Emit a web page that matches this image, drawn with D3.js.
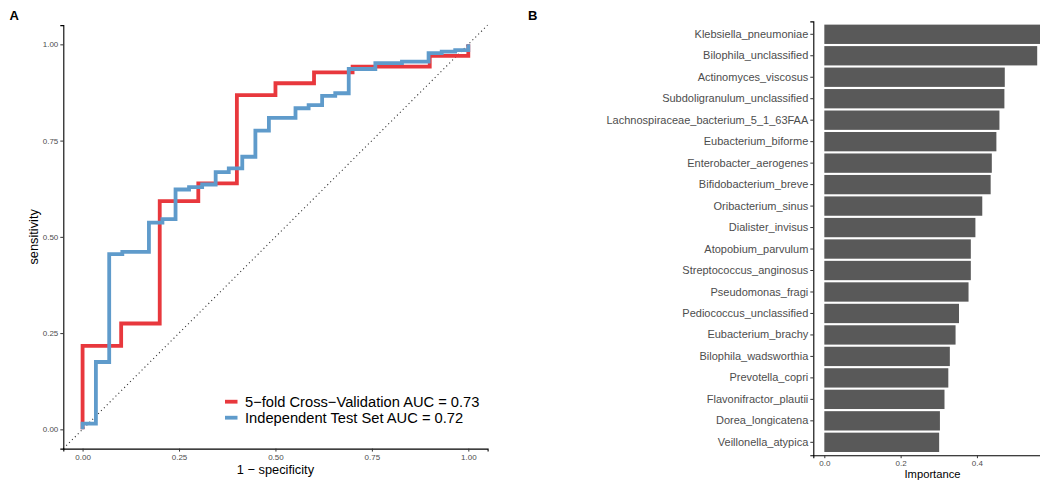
<!DOCTYPE html>
<html>
<head>
<meta charset="utf-8">
<script src="https://cdn.jsdelivr.net/npm/d3@7"></script>
<style>
  html, body { margin: 0; padding: 0; background: #fff; }
  svg { display: block; font-family: "Liberation Sans", Arial, Helvetica, sans-serif; }
</style>
</head>
<body>
<svg id="chart" width="1040" height="481"></svg>
<script>
// ---------------- Data ----------------
// Panel A: ROC curves (x = 1 - specificity, y = sensitivity), step vertices
const cvFpr  = [0, 0, 0.1, 0.1, 0.2, 0.2, 0.3, 0.3, 0.4, 0.4, 0.5, 0.5, 0.6, 0.6, 0.7, 0.7, 0.9, 0.9, 1.0, 1.0];
const cvTpr  = [0, 0.217, 0.217, 0.275, 0.275, 0.593, 0.593, 0.639, 0.639, 0.868, 0.868, 0.899, 0.899, 0.927, 0.927, 0.942, 0.942, 0.970, 0.970, 1.0];

const testFpr = [0, 0, 0.0345, 0.0345, 0.069, 0.069, 0.103, 0.103, 0.172, 0.172, 0.207, 0.207, 0.241, 0.241,
                 0.276, 0.276, 0.310, 0.310, 0.345, 0.345, 0.379, 0.379, 0.414, 0.414, 0.448, 0.448, 0.483, 0.483,
                 0.552, 0.552, 0.586, 0.586, 0.621, 0.621, 0.655, 0.655, 0.690, 0.690, 0.759, 0.759, 0.828, 0.828,
                 0.897, 0.897, 0.931, 0.931, 0.966, 0.966, 1.0, 1.0];
const testTpr = [0, 0.015, 0.015, 0.175, 0.175, 0.455, 0.455, 0.461, 0.461, 0.537, 0.537, 0.546, 0.546, 0.623,
                 0.623, 0.629, 0.629, 0.636, 0.636, 0.668, 0.668, 0.678, 0.678, 0.708, 0.708, 0.776, 0.776, 0.809,
                 0.809, 0.834, 0.834, 0.842, 0.842, 0.866, 0.866, 0.873, 0.873, 0.936, 0.936, 0.951, 0.951, 0.955,
                 0.955, 0.977, 0.977, 0.981, 0.981, 0.985, 0.985, 1.0];

const legendLabels = ["5\u2212fold Cross\u2212Validation AUC = 0.73", "Independent Test Set AUC = 0.72"];
const rocTicks = [0, 0.25, 0.5, 0.75, 1.0];

// Panel B: feature importance
const features = ["Klebsiella_pneumoniae", "Bilophila_unclassified", "Actinomyces_viscosus",
  "Subdoligranulum_unclassified", "Lachnospiraceae_bacterium_5_1_63FAA", "Eubacterium_biforme",
  "Enterobacter_aerogenes", "Bifidobacterium_breve", "Oribacterium_sinus", "Dialister_invisus",
  "Atopobium_parvulum", "Streptococcus_anginosus", "Pseudomonas_fragi", "Pediococcus_unclassified",
  "Eubacterium_brachy", "Bilophila_wadsworthia", "Prevotella_copri", "Flavonifractor_plautii",
  "Dorea_longicatena", "Veillonella_atypica"];
const importance = [0.578, 0.558, 0.473, 0.472, 0.459, 0.451, 0.439, 0.436, 0.414, 0.396,
  0.384, 0.384, 0.378, 0.353, 0.344, 0.329, 0.325, 0.315, 0.303, 0.301];
const impTicks = [0.0, 0.2, 0.4];

// ---------------- Drawing ----------------
const svg = d3.select("#chart");
const tickColor = "#333333";
const tickLabelColor = "#4D4D4D";

// ---------- Panel A ----------
const ax = d3.scaleLinear().domain([-0.05, 1.05]).range([63.3, 487.6]);
const ay = d3.scaleLinear().domain([-0.05, 1.05]).range([448.6, 25.1]);
const gA = svg.append("g");

// diagonal reference line
gA.append("line")
  .attr("x1", ax(-0.05)).attr("y1", ay(-0.05))
  .attr("x2", ax(1.05)).attr("y2", ay(1.05))
  .attr("stroke", "#333").attr("stroke-width", 1.1)
  .attr("stroke-dasharray", "1.1,3");

const lineGen = d3.line().x(d => ax(d[0])).y(d => ay(d[1]));
const cvPts = cvFpr.map((f, i) => [f, cvTpr[i]]);
const testPts = testFpr.map((f, i) => [f, testTpr[i]]);
const colors = ["#E8383D", "#5F9BCB"];

gA.append("path").datum(cvPts).attr("d", lineGen)
  .attr("fill", "none").attr("stroke", colors[0]).attr("stroke-width", 3.8)
  .attr("stroke-linejoin", "miter");
gA.append("path").datum(testPts).attr("d", lineGen)
  .attr("fill", "none").attr("stroke", colors[1]).attr("stroke-width", 3.8)
  .attr("stroke-linejoin", "miter");

// axes
const axA = gA.append("g").attr("transform", `translate(0,${ay(-0.05)})`)
  .call(d3.axisBottom(ax).tickValues(rocTicks).tickFormat(d3.format(".2f")).tickSize(3).tickPadding(3));
const ayA = gA.append("g").attr("transform", `translate(${ax(-0.05)},0)`)
  .call(d3.axisLeft(ay).tickValues(rocTicks).tickFormat(d3.format(".2f")).tickSize(3).tickPadding(2));
[axA, ayA].forEach(g => {
  g.select(".domain").attr("stroke", "#000").attr("stroke-width", 1.1);
  g.selectAll(".tick line").attr("stroke", tickColor);
  g.selectAll(".tick text").attr("fill", tickLabelColor).style("font-size", "8px")
    .style("font-family", "'Liberation Sans', Arial, sans-serif");
});

gA.append("text").attr("x", ax(0.5)).attr("y", 473.5).attr("text-anchor", "middle")
  .style("font-size", "12.8px").attr("fill", "#000").text("1 \u2212 specificity");
gA.append("text").attr("transform", `translate(37.5,${ay(0.5)}) rotate(-90)`)
  .attr("text-anchor", "middle").style("font-size", "12.8px").attr("fill", "#000").text("sensitivity");

// legend
const leg = gA.append("g");
legendLabels.forEach((lab, i) => {
  const y = 401.7 + i * 16;
  leg.append("line").attr("x1", 225).attr("x2", 237.5).attr("y1", y).attr("y2", y)
    .attr("stroke", colors[i]).attr("stroke-width", 3.8);
  leg.append("text").attr("x", 245).attr("y", y).attr("dy", "0.36em")
    .style("font-size", "14.7px").attr("fill", "#000").text(lab);
});

svg.append("text").attr("x", 9.5).attr("y", 19.5).style("font-size", "13px")
  .style("font-weight", "bold").text("A");

// ---------- Panel B ----------
const bx = d3.scaleLinear().domain([-0.0289, 0.6069]).range([813.3, 813.3 + 0.6358 * 381.5]);
const by = d3.scaleBand().domain(features).range([21.4, 455.2]).paddingInner(0.1).paddingOuter(0.15);
const gB = svg.append("g");

gB.selectAll("rect.bar").data(features).join("rect")
  .attr("class", "bar")
  .attr("x", bx(0))
  .attr("y", d => by(d))
  .attr("width", (d, i) => bx(importance[i]) - bx(0))
  .attr("height", by.bandwidth())
  .attr("fill", "#595959");

const bxAxis = gB.append("g").attr("transform", `translate(0,455.2)`)
  .call(d3.axisBottom(bx).tickValues(impTicks).tickFormat(d3.format(".1f")).tickSize(3).tickPadding(2));
const byAxis = gB.append("g").attr("transform", `translate(813.3,0)`)
  .call(d3.axisLeft(by).tickSize(3).tickPadding(2));
bxAxis.select(".domain").attr("stroke", "#000").attr("stroke-width", 1.1);
byAxis.select(".domain").attr("stroke", "#000").attr("stroke-width", 1.1);
[bxAxis, byAxis].forEach(g => {
  g.selectAll(".tick line").attr("stroke", tickColor);
  g.selectAll(".tick text").attr("fill", tickLabelColor)
    .style("font-family", "'Liberation Sans', Arial, sans-serif");
});
bxAxis.selectAll(".tick text").style("font-size", "8px");
byAxis.selectAll(".tick text").style("font-size", "11px");

gB.append("text").attr("x", 932.5).attr("y", 478).attr("text-anchor", "middle")
  .style("font-size", "11.2px").attr("fill", "#000").text("Importance");

svg.append("text").attr("x", 528).attr("y", 19.5).style("font-size", "13px")
  .style("font-weight", "bold").text("B");
</script>
</body>
</html>
